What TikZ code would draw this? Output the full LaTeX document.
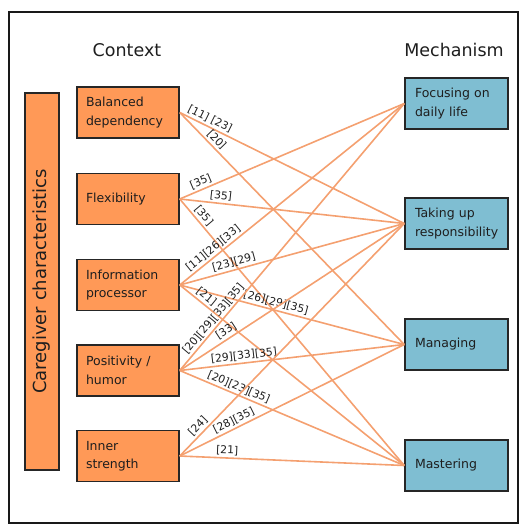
\documentclass[tikz,border=0pt]{standalone}
\usepackage{fontspec}
\setmainfont{DejaVu Sans}
\definecolor{boxorange}{RGB}{255,153,87}
\definecolor{boxblue}{RGB}{127,190,210}
\definecolor{linkorange}{RGB}{244,160,112}
\definecolor{textdark}{RGB}{30,30,30}
\begin{document}
\begin{tikzpicture}[x=1bp,y=-1bp,
  ctx/.style={draw=black!85, line width=1.5bp, fill=boxorange, minimum width=102bp, minimum height=51bp,
    inner xsep=9bp, inner ysep=2bp, text width=84bp, align=left, text=textdark,
    font=\fontsize{12.5bp}{18.5bp}\selectfont},
  mech/.style={draw=black!85, line width=1.5bp, fill=boxblue, minimum width=103bp, minimum height=51bp,
    inner xsep=10bp, inner ysep=2bp, text width=83bp, align=left, text=textdark,
    font=\fontsize{12.5bp}{19bp}\selectfont},
  bar/.style={draw=black!85, line width=1.5bp, fill=boxorange, minimum width=377bp, minimum height=34bp,
    inner sep=0pt, text=textdark, font=\fontsize{18bp}{20bp}\selectfont},
  head/.style={text=textdark, font=\fontsize{17.5bp}{20bp}\selectfont},
  link/.style={draw=linkorange, line width=1.6bp},
  lab/.style={sloped, above, inner sep=2bp, text=textdark, font=\fontsize{10.8bp}{12bp}\selectfont}
]
\useasboundingbox (0,0) rectangle (523,525);
\draw[line width=2bp, black!90] (9,12) rectangle (518,523);

\node[head] (hctx) at (127,50) {Context};
\node[head] (hmech) at (454,50) {Mechanism};

\node[bar, rotate=90] (care) at (42,281.5) {Caregiver characteristics};

\node[ctx] (bal) at (128,112.5) {Balanced\\dependency};
\node[ctx] (flex) at (128,199) {Flexibility};
\node[ctx] (info) at (128,285) {Information\\processor};
\node[ctx] (pos) at (128,370.5) {Positivity /\\humor};
\node[ctx] (inner) at (128,456) {Inner\\strength};

\node[mech] (focus) at (456.5,103.5) {Focusing on\\daily life};
\node[mech] (take) at (456.5,223.5) {Taking up\\responsibility};
\node[mech] (manage) at (456.5,344.5) {Managing};
\node[mech] (master) at (456.5,465.5) {Mastering};

\draw[link] (bal.east) -- node[lab, pos=0.12] {[11] [23]} (take.west);
\draw[link] (bal.east) -- node[lab, pos=0.14] {[20]} (manage.west);

\draw[link] (flex.east) -- node[lab, pos=0.107] {[35]} (focus.west);
\draw[link] (flex.east) -- node[lab, pos=0.18] {[35]} (take.west);
\draw[link] (flex.east) -- node[lab, pos=0.081] {[35]} (master.west);

\draw[link] (info.east) -- node[lab, pos=0.17] {[11][26][33]} (focus.west);
\draw[link] (info.east) -- node[lab, pos=0.25] {[23][29]} (take.west);
\draw[link] (info.east) -- node[lab, pos=0.42] {[26][29][35]} (manage.west);
\draw[link] (info.east) -- node[lab, pos=0.097] {[21]} (master.west);

\draw[link] (pos.east) -- node[lab, pos=0.175] {[20][29][33][35]} (focus.west);
\draw[link] (pos.east) -- node[lab, pos=0.225] {[33]} (take.west);
\draw[link] (pos.east) -- node[lab, pos=0.29] {[29][33][35]} (manage.west);
\draw[link] (pos.east) -- node[lab, pos=0.25] {[20][23][35]} (master.west);

\draw[link] (inner.east) -- node[lab, pos=0.105] {[24]} (take.west);
\draw[link] (inner.east) -- node[lab, pos=0.256] {[28][35]} (manage.west);
\draw[link] (inner.east) -- node[lab, pos=0.21] {[21]} (master.west);
\end{tikzpicture}
\end{document}
